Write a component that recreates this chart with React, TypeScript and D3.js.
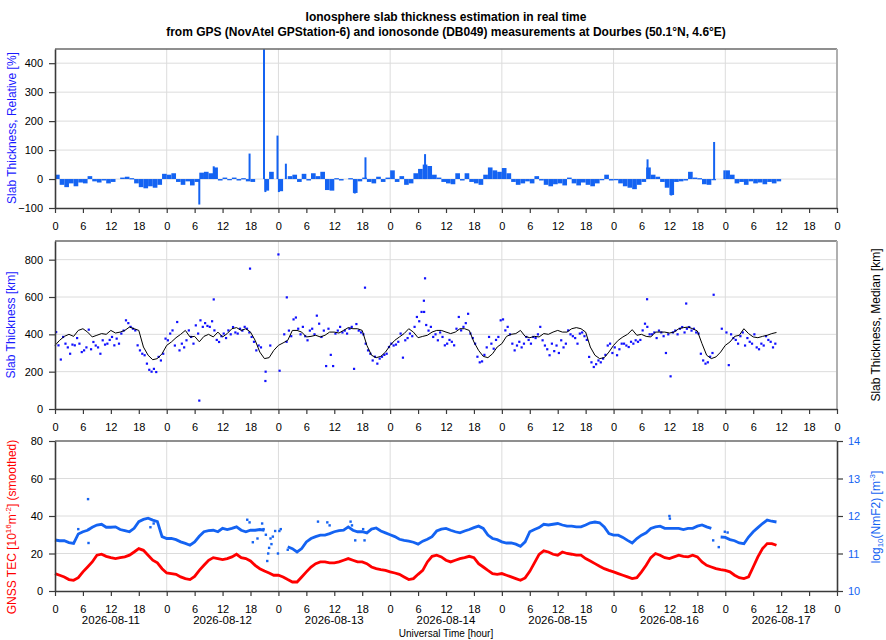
import React, { useEffect, useRef } from 'react';
import * as d3 from 'd3';

// Hourly samples, hour 0 = 2026-08-11 00 UT
const dayLabels = ['2026-08-11', '2026-08-12', '2026-08-13', '2026-08-14', '2026-08-15', '2026-08-16', '2026-08-17'];
const hourTicks = d3.range(0, 169, 6);
const relTicks = [-100, 0, 100, 200, 300, 400];
const slabTicks = [0, 200, 400, 600, 800];
const tecTicks = [0, 20, 40, 60, 80];
const nmf2Ticks = [10, 11, 12, 13, 14];

// relative slab thickness [%]
const relThickness: (number | null)[] = [
    15, -20, -28, -15, -25, -12, -15, 10, -8, -12,
    -5, -15, -10, null, 5, 8, 3, -15, -28, -32,
    -25, -30, -20, 18, 15, 20, -10, -20, -8, -22,
    -10, 22, 25, 20, 40, -5, 5, -3, 5, -5,
    3, -8, -10, null, null, -40, 25, null, -42, null,
    10, 15, -10, 18, -5, 20, 10, 25, -38, -40,
    3, -5, null, 3, -48, -8, 5, -10, -15, 8,
    -10, 5, 30, -10, 10, -20, -15, 20, 35, 50,
    45, 15, 5, -10, -15, -18, 20, -5, 20, -10,
    -15, -20, 15, 40, 30, 25, 38, 20, -10, -20,
    -15, -8, -15, 10, -5, -20, -25, -18, -15, -22,
    5, -15, -22, -12, -20, -25, -15, 0, 15, -5,
    0, -15, -25, -30, -35, -20, -10, 40, 15, 8,
    -10, -30, -55, -10, -8, -5, 25, 5, 3, -18,
    -20, 0, null, null, 30, 15, -15, -10, -20, -8,
    -15, -12, -18, -10, -15, -8
];
// isolated spikes [hour, %]
const relSpikes: [number, number][] = [
    [31.0, -88], [34.1, 44], [41.8, 88], [44.9, 460], [45.2, -45], [47.8, 150], [48.1, -45],
    [49.6, 53], [64.4, -50], [66.7, 75], [79.5, 86], [127.3, 68], [132.4, -57], [141.6, 128], [143.8, 30]
];

// ionosonde slab thickness [km], at hh:15 and hh:45
const slabA: (number | null)[] = [
    412, 265, 350, 296, 341, 350, 314, 425, 359, 330,
    368, 350, 386, 377, 404, 475, 440, 421, 314, 288,
    210, 215, 279, 296, 368, 421, 466, 350, 368, 386,
    448, 475, 460, 440, 421, 359, 404, 421, 439, 404,
    420, 430, 386, 314, 330, 200, 340, null, 205, 400,
    420, 480, 430, 440, 368, 430, 500, 386, 230, 290,
    404, 440, 420, 430, 215, 420, 400, 314, 260, 243,
    280, 296, 350, 345, 404, 368, 404, 440, 470, 580,
    420, 386, 368, 386, 350, 360, 430, 421, 460, 404,
    350, 250, 290, 386, 323, 386, 480, 440, 350, 340,
    330, 386, 350, 380, 440, 340, 288, 310, 300, 330,
    421, 390, 350, 410, 370, 250, 240, 250, 290, 350,
    330, 320, 350, 332, 350, 360, 421, 440, 400, 380,
    410, 300, 175, 420, 430, 410, 439, 430, 404, 260,
    250, 300, null, 430, 410, 400, 370, 390, 340, 360,
    400, 320, 340, 370, 330, null
];
const slabB: (number | null)[] = [
    341, 386, 330, 345, 380, 305, 330, 320, 340, 296,
    345, 370, 341, 350, 420, 460, 430, 341, 296, 243,
    200, 198, 260, 377, 404, 340, 314, 330, 421, 350,
    404, 440, 445, 470, 370, 390, 380, 400, 410, 430,
    440, 410, 360, 340, null, null, null, null, null, 360,
    390, 490, 400, 390, 420, 400, 457, 420, 430, 230,
    420, 410, 404, 440, 455, 410, 350, 296, 280, 270,
    290, 332, 340, 360, 275, 380, 390, 493, 520, 450,
    440, 400, 410, 341, 370, 341, 493, 440, 510, 380,
    280, 255, 330, 350, 370, 475, 421, 400, 314, 360,
    350, 370, 386, 400, 368, 320, 350, 340, 368, 350,
    400, 380, 404, 390, 279, 225, 260, 270, 340, 300,
    288, 350, 340, 360, 368, 370, 457, 400, 410, 420,
    390, 400, 410, 400, 439, 430, 420, 410, 296, 243,
    280, null, null, null, 235, 380, 350, 410, 380, 350,
    330, 350, 390, 360, 350, null
];
const slabOutliers: [number, number][] = [
    [31.0, 45], [34.1, 587], [41.9, 752], [45.2, 150], [48.0, 828], [49.8, 598],
    [66.6, 650], [79.3, 520], [79.5, 700], [127.2, 588], [135.6, 565], [141.5, 612]
];
// running median [km]
const slabMedian: number[] = [
    341, 368, 389, 400, 389, 421, 430, 412, 386, 395,
    404, 400, 421, 407, 412, 421, 439, 430, 421, 332,
    288, 264, 270, 296, 341, 359, 382, 400, 421, 386,
    389, 360, 389, 400, 386, 412, 386, 404, 430, 436,
    421, 430, 412, 368, 305, 270, 275, 314, 341, 354,
    368, 421, 421, 412, 386, 389, 395, 386, 395, 412,
    412, 407, 421, 436, 430, 430, 421, 341, 288, 275,
    282, 305, 341, 368, 386, 404, 430, 412, 382, 389,
    395, 412, 421, 421, 412, 404, 412, 430, 430, 421,
    359, 314, 282, 275, 296, 332, 350, 389, 400, 404,
    421, 389, 382, 389, 386, 404, 400, 412, 421, 412,
    412, 430, 436, 430, 412, 332, 288, 270, 275, 305,
    341, 368, 386, 400, 425, 395, 400, 389, 386, 412,
    412, 412, 407, 412, 430, 436, 439, 430, 418, 350,
    288, 270, 279, 305, 341, 359, 389, 395, 430, 404,
    386, 382, 389, 395, 404, 410
];

// GNSS TEC [TECU], smoothed
const tec: number[] = [
    9.3, 8.4, 7.5, 6.1, 5.7, 7.1, 10.2, 12.8, 15.5, 19.1,
    19.6, 18.5, 17.8, 17.3, 17.8, 18.2, 19.1, 20.8, 22.6, 21.7,
    19.1, 16.4, 15, 11.9, 9.6, 9.3, 8.9, 7.5, 6.6, 6.1,
    7.8, 11, 13.7, 16.4, 17.8, 17.3, 16.8, 17.3, 18.2, 19.6,
    17.8, 17.3, 16, 13.7, 11.9, 10.7, 9.6, 8.4, 8.4, 7.5,
    6.1, 4.8, 4.8, 7.5, 10.2, 12.8, 14.6, 15.5, 15.5, 15,
    15, 15.5, 16.4, 17.3, 16.4, 15.5, 15.5, 14.6, 12.8, 11.9,
    11.4, 11, 10.2, 9.6, 8.9, 7.5, 6.1, 6.6, 8.9, 11,
    15.5, 18.5, 19.1, 18.2, 16.4, 15.5, 16.4, 17.3, 17.8, 18.5,
    17.8, 14.6, 12.8, 11, 9.3, 8.9, 9.3, 8.4, 7.5, 6.6,
    5.7, 7, 10.5, 15, 19.5, 21.4, 20.8, 19.6, 19.1, 20.8,
    20, 19.6, 19.1, 19.1, 17.3, 16, 14.6, 13.2, 11.9, 11,
    10.2, 9.3, 8.4, 7.5, 6.6, 7.1, 10.2, 13.7, 17.8, 20,
    19.1, 17.8, 17.3, 18.2, 19.1, 18.5, 18.2, 19.1, 18.2, 15.5,
    13.7, 12.8, 11.9, 11.4, 11, 10.2, 8.4, 7.1, 6.6, 7.5,
    12.8, 18.2, 22.6, 25.3, 25.3, 24.4
];
// log10(NmF2) [m^-3]
const nmf2: (number | null)[] = [
    11.36, 11.34, 11.34, 11.29, 11.27, 11.52, 11.58, 11.62, 11.7, 11.76,
    11.78, 11.7, 11.7, 11.71, 11.64, 11.61, 11.58, 11.67, 11.85, 11.91,
    11.94, 11.89, 11.85, 11.45, 11.4, 11.4, 11.37, 11.31, 11.27, 11.22,
    11.31, 11.46, 11.58, 11.61, 11.62, 11.58, 11.67, 11.64, 11.67, 11.71,
    11.62, 11.58, 11.62, 11.62, 11.64, 11.62, null, null, null, null,
    11.18, 11.13, 11.04, 11.13, 11.31, 11.4, 11.45, 11.49, 11.49, 11.53,
    11.58, 11.61, 11.62, 11.71, 11.62, 11.58, 11.58, 11.55, 11.65, 11.68,
    11.6, 11.55, 11.5, 11.45, 11.38, 11.35, 11.33, 11.3, 11.25, 11.33,
    11.38, 11.45, 11.6, 11.65, 11.67, 11.62, 11.58, 11.55, 11.6, 11.64,
    11.69, 11.73, 11.67, 11.49, 11.4, 11.37, 11.31, 11.28, 11.28, 11.25,
    11.19, 11.31, 11.58, 11.64, 11.69, 11.78, 11.76, 11.78, 11.8, 11.76,
    11.73, 11.73, 11.71, 11.71, 11.76, 11.82, 11.84, 11.82, 11.71, 11.53,
    11.49, 11.49, 11.43, 11.35, 11.28, 11.4, 11.49, 11.55, 11.67, 11.71,
    11.73, 11.67, 11.67, 11.67, 11.67, 11.64, 11.67, 11.67, 11.73, 11.76,
    11.71, 11.67, null, 11.44, 11.43, 11.37, 11.34, 11.28, 11.26, 11.44,
    11.58, 11.69, 11.8, 11.89, 11.86, 11.84
];
const nmf2Scatter: [number, number][] = [
    [5.0, 11.65], [7.1, 12.45], [7.2, 11.28], [7.3, 11.65], [20.5, 11.7], [21.2, 11.8],
    [41.3, 11.9], [41.8, 11.83], [42.5, 11.3], [43.5, 11.4], [44.5, 11.8], [44.8, 11.65],
    [45.3, 11.5], [45.6, 10.8], [45.8, 11.0], [46.0, 11.15], [46.3, 11.4], [46.5, 11.25],
    [46.8, 11.45], [47.3, 11.6], [47.9, 11.0], [48.2, 11.6], [48.5, 11.65], [50.0, 11.1],
    [56.5, 11.85], [58.5, 11.83], [59.0, 11.75], [63.5, 11.85], [63.8, 11.75], [64.5, 11.35],
    [66.2, 11.65], [66.5, 11.35], [132.0, 12.0], [132.1, 11.93], [141.4, 11.35], [142.6, 11.17],
    [143.9, 11.58], [144.5, 11.56]
];

const FONT = '"Liberation Sans", Arial, Helvetica, sans-serif';
const BLUE = '#1463f2';

const App: React.FC = () => {
    const svgRef = useRef<SVGSVGElement>(null);

    useEffect(() => {
        const svg = d3.select(svgRef.current);
        svg.selectAll('*').remove();
        svg.style('font-family', FONT);

        const x = d3.scaleLinear().domain([0, 168]).range([55, 837]);
        const yRel = d3.scaleLinear().domain([-100, 449]).range([208, 49]);
        const ySlab = d3.scaleLinear().domain([0, 900]).range([409, 241]);
        const yTec = d3.scaleLinear().domain([0, 80]).range([591, 441]);
        const yNm = d3.scaleLinear().domain([10, 14]).range([591, 441]);

        // Title
        svg.append('text').attr('x', 446).attr('y', 21).attr('text-anchor', 'middle')
            .style('font-size', '12px').style('font-weight', 'bold')
            .text('Ionosphere slab thickness estimation in real time');
        svg.append('text').attr('x', 446).attr('y', 36).attr('text-anchor', 'middle')
            .style('font-size', '12px').style('font-weight', 'bold')
            .text('from GPS (NovAtel GPStation-6) and ionosonde (DB049) measurements at Dourbes (50.1\u00B0N, 4.6\u00B0E)');

        const grid = (top: number, bottom: number, y: d3.ScaleLinear<number, number>, vals: number[]) => {
            const g = svg.append('g');
            d3.range(1, 7).forEach(d => {
                g.append('line').attr('x1', x(24 * d)).attr('x2', x(24 * d))
                    .attr('y1', top).attr('y2', bottom).attr('stroke', '#dcdcdc');
            });
            vals.forEach(v => {
                g.append('line').attr('x1', x(0)).attr('x2', x(168))
                    .attr('y1', y(v)).attr('y2', y(v)).attr('stroke', '#dcdcdc');
            });
        };

        const styleAxis = (a: d3.Selection<SVGGElement, unknown, null, undefined>, color = '#000') => {
            a.select('.domain').attr('stroke', '#3a3a3a').attr('stroke-width', 1.6);
            a.selectAll('.tick line').attr('stroke', '#3a3a3a').attr('stroke-width', 1.2);
            a.selectAll('.tick text').style('font-size', '11px').style('font-family', FONT).attr('fill', color);
        };

        const frame = (top: number, bottom: number, y: d3.ScaleLinear<number, number>, ticks: number[], rightDark = false) => {
            svg.append('line').attr('x1', x(0)).attr('x2', x(168)).attr('y1', top).attr('y2', top)
                .attr('stroke', '#6a6a6a').attr('stroke-width', 1.5);
            if (!rightDark) {
                svg.append('line').attr('x1', x(168)).attr('x2', x(168)).attr('y1', top).attr('y2', bottom)
                    .attr('stroke', '#b0b0b0').attr('stroke-width', 2);
            }
            const ax = svg.append('g').attr('transform', `translate(0,${bottom})`)
                .call(d3.axisBottom(x).tickValues(hourTicks).tickFormat(d => String(+d % 24))
                    .tickSize(5).tickSizeOuter(0).tickPadding(9));
            styleAxis(ax);
            const ay = svg.append('g').attr('transform', `translate(${x(0)},0)`)
                .call(d3.axisLeft(y).tickValues(ticks).tickFormat(d3.format('d')).tickSize(6).tickSizeOuter(0).tickPadding(6));
            styleAxis(ay);
        };

        const vLabel = (px: number, py: number, color: string, parts: [string, string][]) => {
            const t = svg.append('text').attr('transform', `translate(${px},${py}) rotate(-90)`)
                .attr('text-anchor', 'middle').style('font-size', '12px').attr('fill', color);
            parts.forEach(([s, kind]) => {
                const sp = t.append('tspan').text(s);
                if (kind === 'sup') sp.attr('dy', -5).style('font-size', '8px');
                else if (kind === 'sub') sp.attr('dy', 3).style('font-size', '8px');
                else if (kind === 'back') sp.attr('dy', 5);
                else if (kind === 'up') sp.attr('dy', -3);
            });
        };

        // ---- panel 1: relative slab thickness
        grid(49, 208, yRel, [0, 100, 200, 300, 400]);
        svg.append('clipPath').attr('id', 'clipRel').append('rect')
            .attr('x', x(0)).attr('y', 49).attr('width', x(168) - x(0)).attr('height', 159);
        const gRel = svg.append('g').attr('clip-path', 'url(#clipRel)');
        const bw = x(1) - x(0);
        relThickness.forEach((v, i) => {
            if (v === null) return;
            gRel.append('rect').attr('x', x(i)).attr('width', bw)
                .attr('y', Math.min(yRel(v), yRel(0))).attr('height', Math.max(1.2, Math.abs(yRel(v) - yRel(0))))
                .attr('fill', BLUE);
        });
        relSpikes.forEach(([t, v]) => {
            gRel.append('line').attr('x1', x(t)).attr('x2', x(t)).attr('y1', yRel(0)).attr('y2', yRel(v))
                .attr('stroke', BLUE).attr('stroke-width', 2);
        });
        frame(49, 208, yRel, relTicks);
        vLabel(16, 128, '#1a1aff', [['Slab Thickness, Relative [%]', '']]);

        // ---- panel 2: slab thickness
        grid(241, 409, ySlab, [200, 400, 600, 800]);
        const gSlab = svg.append('g');
        const dot = (t: number, v: number | null) => {
            if (v === null) return;
            gSlab.append('rect').attr('x', x(t) - 1.1).attr('y', ySlab(v) - 1.1)
                .attr('width', 2.2).attr('height', 2.2).attr('fill', '#1010ff');
        };
        slabA.forEach((v, i) => dot(i + 0.25, v));
        slabB.forEach((v, i) => dot(i + 0.75, v));
        slabOutliers.forEach(([t, v]) => dot(t, v));
        const medLine = d3.line<number>().x((_, i) => x(i)).y(d => ySlab(d));
        svg.append('path').attr('d', medLine(slabMedian) || '').attr('fill', 'none')
            .attr('stroke', '#000').attr('stroke-width', 1);
        frame(241, 409, ySlab, slabTicks);
        vLabel(15, 325, '#1a1aff', [['Slab Thickness [km]', '']]);
        vLabel(880, 325, '#000', [['Slab Thickness, Median [km]', '']]);

        // ---- panel 3: TEC and NmF2
        grid(441, 591, yTec, [20, 40, 60]);
        const tecLine = d3.line<number>().x((_, i) => x(i)).y(d => yTec(d));
        svg.append('path').attr('d', tecLine(tec) || '').attr('fill', 'none')
            .attr('stroke', '#ff0000').attr('stroke-width', 2.8);
        const nmLine = d3.line<number | null>().defined(d => d !== null).x((_, i) => x(i)).y(d => yNm(d as number));
        svg.append('path').attr('d', nmLine(nmf2) || '').attr('fill', 'none')
            .attr('stroke', BLUE).attr('stroke-width', 2.8);
        nmf2Scatter.forEach(([t, v]) => {
            svg.append('rect').attr('x', x(t) - 1.2).attr('y', yNm(v) - 1.2)
                .attr('width', 2.4).attr('height', 2.4).attr('fill', BLUE);
        });
        frame(441, 591, yTec, tecTicks, true);
        const ar = svg.append('g').attr('transform', `translate(${x(168)},0)`)
            .call(d3.axisRight(yNm).tickValues(nmf2Ticks).tickFormat(d3.format('d')).tickSize(6).tickSizeOuter(0).tickPadding(5));
        styleAxis(ar, BLUE);

        dayLabels.forEach((d, i) => {
            svg.append('text').attr('x', x(24 * i + 12)).attr('y', 623.5).attr('text-anchor', 'middle')
                .style('font-size', '11.5px').text(d);
        });
        svg.append('text').attr('x', 446).attr('y', 637).attr('text-anchor', 'middle')
            .style('font-size', '10px').text('Universal Time [hour]');

        vLabel(16, 527, '#ff0000', [
            ['GNSS TEC [10', ''], ['16', 'sup'], ['m', 'back'], ['-2', 'sup'], ['] (smoothed)', 'back']
        ]);
        vLabel(880, 517, BLUE, [
            ['log', ''], ['10', 'sub'], ['(NmF2) [m', 'up'], ['-3', 'sup'], [']', 'back']
        ]);
    }, []);

    return (
        <svg
            ref={svgRef}
            width={886}
            height={640}
            style={{ position: 'absolute', left: 0, top: 0, background: '#fff' }}
        />
    );
};

export default App;
